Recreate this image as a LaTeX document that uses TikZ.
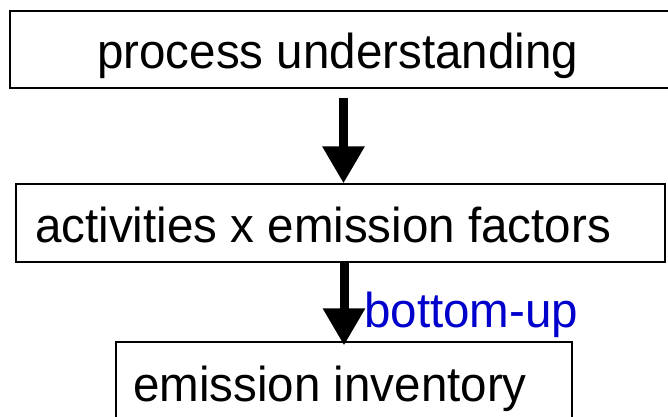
\documentclass[tikz,border=0pt]{standalone}
\usepackage{fontspec}
\setmainfont{Liberation Sans}
\usetikzlibrary{arrows.meta}
\definecolor{labelblue}{RGB}{0,0,204}
\newcommand{\condensed}[1]{\scalebox{0.97}[1]{#1}}
\tikzset{
  box/.style={draw=black, line width=1.2pt, inner sep=0pt, fill=none},
  txt/.style={anchor=base west, inner sep=0pt, font=\fontsize{49}{58}\selectfont},
  bigarrow/.style={line width=9pt, -{Triangle[width=40pt,length=37pt]}}
}
\begin{document}
\begin{tikzpicture}[x=1pt,y=-1pt]
\useasboundingbox (0,0) rectangle (668,416);
\node[box, minimum width=660pt, minimum height=77pt] (b1) at (340,49.5) {};
\node[box, minimum width=649pt, minimum height=78pt] (b2) at (340.5,223) {};
\node[box, minimum width=456pt, minimum height=78pt] (b3) at (344,381) {};
\node[txt] (t1) at (97,68) {\condensed{process understanding}};
\node[txt] (t2) at (35,242) {\condensed{activities x emission factors}};
\node[txt] (t3) at (133,401) {\condensed{emission inventory}};
\node[txt, text=labelblue] (t4) at (364,327) {\condensed{bottom-up}};
\draw[bigarrow] ([xshift=3.5pt,yshift=-9pt]b1.south) -- ([xshift=3pt]b2.north);
\draw[bigarrow] ([xshift=3.5pt]b2.south) -- ([yshift=-4pt]b3.north);
\end{tikzpicture}
\end{document}
